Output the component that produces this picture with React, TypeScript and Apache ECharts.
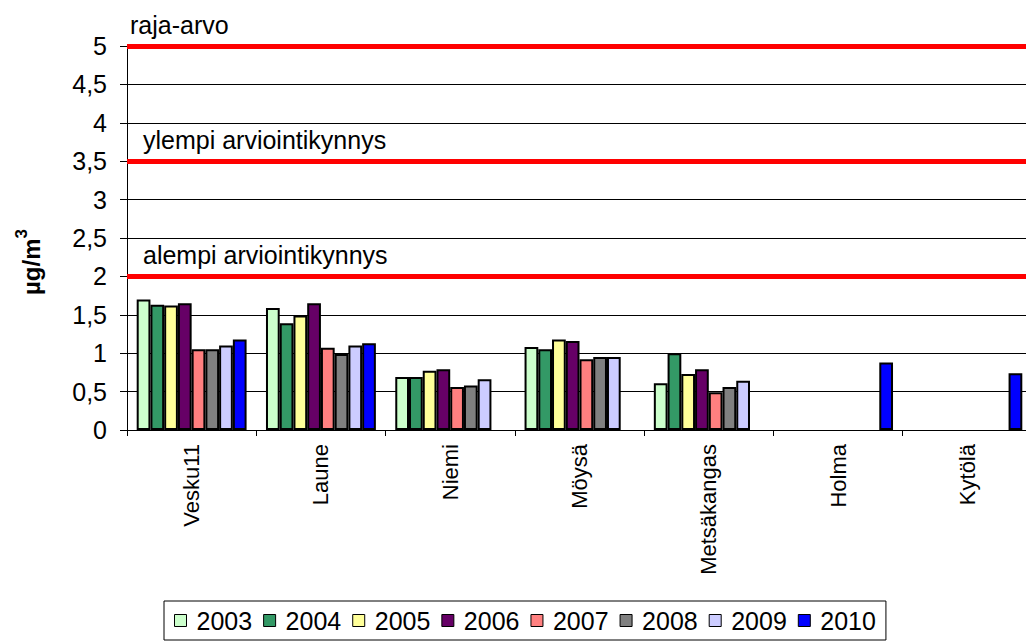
import React, { useEffect, useRef } from "react";
import * as echarts from "echarts";

const categories = ["Vesku11", "Laune", "Niemi", "Möysä", "Metsäkangas", "Holma", "Kytölä"];
const years = ["2003", "2004", "2005", "2006", "2007", "2008", "2009", "2010"];
const colors = ["#CCFFCC", "#339966", "#FFFF99", "#660066", "#FF8080", "#808080", "#CCCCFF", "#0000FF"];

const s2003 = [1.70, 1.59, 0.69, 1.08, 0.61, null, null];
const s2004 = [1.63, 1.39, 0.69, 1.05, 1.00, null, null];
const s2005 = [1.62, 1.49, 0.77, 1.18, 0.73, null, null];
const s2006 = [1.65, 1.65, 0.79, 1.16, 0.79, null, null];
const s2007 = [1.05, 1.07, 0.56, 0.92, 0.49, null, null];
const s2008 = [1.05, 0.99, 0.58, 0.95, 0.56, null, null];
const s2009 = [1.10, 1.10, 0.66, 0.95, 0.64, null, null];
const s2010 = [1.18, 1.13, null, null, null, 0.88, 0.74];
const seriesValues = [s2003, s2004, s2005, s2006, s2007, s2008, s2009, s2010];

const thresholdValues = [5, 3.5, 2];
const thresholdLabels = ["raja-arvo", "ylempi arviointikynnys", "alempi arviointikynnys"];

const yTicks = { min: 0, max: 5, interval: 0.5 };
const yAxisTitleMain = "µg/m";
const yAxisTitleSup = "3";

const FONT = "'Liberation Sans', Arial, sans-serif";

export default function App() {
  const ref = useRef<HTMLDivElement>(null);

  useEffect(() => {
    if (!ref.current) return;
    const chart = echarts.init(ref.current, undefined, { renderer: "svg" });

    const markData = thresholdValues.map((v, i) => ({
      yAxis: v,
      label: {
        show: true,
        formatter: thresholdLabels[i],
        position: "insideStartTop",
        distance: i === 0 ? [3, 9] : [16, 9],
        color: "#000",
        fontSize: 25,
        fontFamily: FONT,
      },
    }));

    const series = years.map((y, i) => ({
      name: y,
      type: "bar",
      data: seriesValues[i],
      barGap: "0%",
      barCategoryGap: "15%",
      itemStyle: { color: colors[i], borderColor: "#000", borderWidth: 2 },
      emphasis: { disabled: true },
      ...(i === 0
        ? {
            markLine: {
              silent: true,
              symbol: ["none", "none"],
              lineStyle: { color: "#FF0000", width: 5, type: "solid" },
              emphasis: { disabled: true },
              data: markData,
            },
          }
        : {}),
    }));

    chart.setOption({
      animation: false,
      backgroundColor: "#fff",
      textStyle: { fontFamily: FONT },
      grid: { left: 127, top: 46, width: 905, height: 384, containLabel: false },
      legend: {
        left: 164,
        top: 601,
        data: years,
        orient: "horizontal",
        itemWidth: 12,
        itemHeight: 12,
        itemGap: 11,
        padding: [7, 10, 7, 10],
        borderColor: "#000",
        borderWidth: 1,
        icon: "rect",
        itemStyle: { borderColor: "#000", borderWidth: 1 },
        textStyle: { fontSize: 25, color: "#000", fontFamily: FONT, padding: [0, 0, 0, 5] },
        selectedMode: false,
      },
      xAxis: {
        type: "category",
        data: categories,
        axisLine: { show: true, lineStyle: { color: "#000", width: 1 } },
        axisTick: { show: true, length: 6, lineStyle: { color: "#000" } },
        axisLabel: { rotate: 90, fontSize: 22, color: "#000", margin: 14, fontFamily: FONT },
      },
      yAxis: {
        type: "value",
        min: yTicks.min,
        max: yTicks.max,
        interval: yTicks.interval,
        axisLine: { show: true, lineStyle: { color: "#000", width: 1 } },
        axisTick: { show: true, length: 7, lineStyle: { color: "#000" } },
        axisLabel: {
          fontSize: 25,
          color: "#000",
          margin: 20,
          fontFamily: FONT,
          formatter: (v: number) => String(v).replace(".", ","),
        },
        splitLine: { show: true, lineStyle: { color: "#000", width: 1 } },
      },
      graphic: [
        {
          type: "text",
          x: 28,
          y: 262,
          rotation: Math.PI / 2,
          style: {
            text: "{a|" + yAxisTitleMain + "}{b|" + yAxisTitleSup + "}",
            fill: "#000",
            fontFamily: FONT,
            align: "center",
            verticalAlign: "middle",
            textAlign: "center",
            textVerticalAlign: "middle",
            rich: {
              a: { fontSize: 24, fontWeight: "bold", fontFamily: FONT, fill: "#000", color: "#000", lineHeight: 30, verticalAlign: "bottom" },
              b: { fontSize: 17, fontWeight: "bold", fontFamily: FONT, fill: "#000", color: "#000", lineHeight: 30, verticalAlign: "top" },
            },
          },
        },
      ],
      series,
    });

    return () => chart.dispose();
  }, []);

  return (
    <div
      ref={ref}
      style={{ position: "fixed", left: 0, top: 0, width: 1040, height: 644, background: "#fff" }}
    />
  );
}
